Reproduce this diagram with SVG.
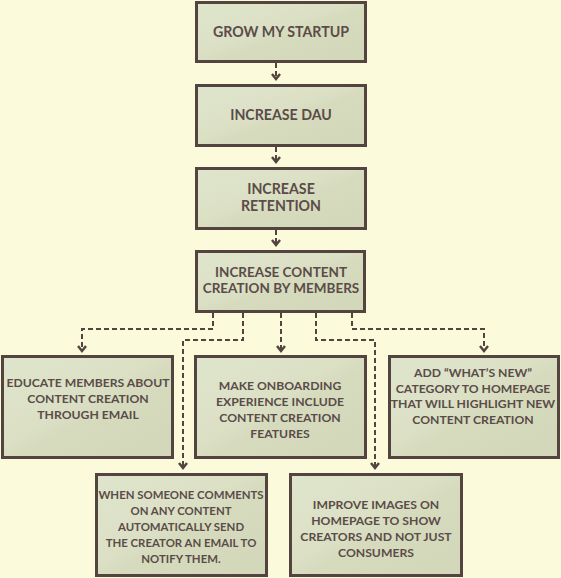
<svg xmlns="http://www.w3.org/2000/svg" width="561" height="578" viewBox="0 0 561 578">
<style>
.box{fill:url(#g);stroke:#54443f;stroke-width:3}
.t{font-family:Lato,"Open Sans",sans-serif;font-weight:bold;font-size:12.2px;fill:#5a4c48;text-anchor:middle}
.big{font-size:14.2px}
.mid{font-size:13.5px}
.sm{font-size:11.4px}
.c{fill:none;stroke:#54443f;stroke-width:2;stroke-dasharray:5 3}
.ah{fill:none;stroke:#54443f;stroke-width:2.5;stroke-linejoin:miter}
</style>
<defs>
<linearGradient id="g" x1="0" y1="0" x2="1" y2="1">
<stop offset="0" stop-color="#dfe5cc"/>
<stop offset="0.45" stop-color="#dbe0c5"/>
<stop offset="0.55" stop-color="#d6dbbe"/>
<stop offset="1" stop-color="#d3d7ba"/>
</linearGradient>
</defs>
<rect width="561" height="578" fill="#fbfbdc"/>
<g id="connectors">
<path class="c" d="M276,63 V77"/>
<path class="c" d="M276,147 V160"/>
<path class="c" d="M276,230 V243"/>
<path class="c" d="M213,313 V329 H82 V349"/>
<path class="c" d="M243,313 V340 H183 V466"/>
<path class="c" d="M281,313 V349"/>
<path class="c" d="M316,313 V340 H375 V466"/>
<path class="c" d="M352,313 V329 H484 V349"/>
<path class="ah" d="M272,74 L276,79 L280,74"/>
<path class="ah" d="M272,157 L276,162 L280,157"/>
<path class="ah" d="M272,240 L276,245 L280,240"/>
<path class="ah" d="M78,346 L82,351 L86,346"/>
<path class="ah" d="M277,346 L281,351 L285,346"/>
<path class="ah" d="M480,346 L484,351 L488,346"/>
<path class="ah" d="M179,463 L183,468 L187,463"/>
<path class="ah" d="M371,463 L375,468 L379,463"/>
</g>
<g id="n1"><rect class="box" x="196.5" y="2.5" width="169" height="59"/>
<text class="t big" x="281" y="37">GROW MY STARTUP</text></g>
<g id="n2"><rect class="box" x="196.5" y="85.5" width="169" height="60"/>
<text class="t big" x="281" y="120">INCREASE DAU</text></g>
<g id="n3"><rect class="box" x="196.5" y="168.5" width="169" height="60"/>
<text class="t big" x="281" y="194">INCREASE</text>
<text class="t big" x="281" y="211">RETENTION</text></g>
<g id="n4"><rect class="box" x="196.5" y="251.5" width="168" height="60"/>
<text class="t mid" x="281" y="277">INCREASE CONTENT</text>
<text class="t mid" x="281" y="293">CREATION BY MEMBERS</text></g>
<g id="n5"><rect class="box" x="2.5" y="356.5" width="170" height="101"/>
<text class="t" x="88" y="387">EDUCATE MEMBERS ABOUT</text>
<text class="t" x="88" y="403">CONTENT CREATION</text>
<text class="t" x="88" y="419">THROUGH EMAIL</text></g>
<g id="n6"><rect class="box" x="195.5" y="356.5" width="170" height="101"/>
<text class="t" x="280" y="390">MAKE ONBOARDING</text>
<text class="t" x="280" y="406">EXPERIENCE INCLUDE</text>
<text class="t" x="280" y="422">CONTENT CREATION</text>
<text class="t" x="280" y="438">FEATURES</text></g>
<g id="n7"><rect class="box" x="389.5" y="356.5" width="169" height="101"/>
<text class="t" x="473" y="377">ADD “WHAT’S NEW”</text>
<text class="t" x="473" y="393">CATEGORY TO HOMEPAGE</text>
<text class="t" x="473" y="408">THAT WILL HIGHLIGHT NEW</text>
<text class="t" x="473" y="424">CONTENT CREATION</text></g>
<g id="n8"><rect class="box" x="96.5" y="474.5" width="170" height="101"/>
<text class="t sm" x="181" y="499">WHEN SOMEONE COMMENTS</text>
<text class="t sm" x="181" y="515">ON ANY CONTENT</text>
<text class="t sm" x="181" y="531">AUTOMATICALLY SEND</text>
<text class="t sm" x="181" y="547">THE CREATOR AN EMAIL TO</text>
<text class="t sm" x="181" y="563">NOTIFY THEM.</text></g>
<g id="n9"><rect class="box" x="290.5" y="474.5" width="171" height="101"/>
<text class="t" x="376" y="509">IMPROVE IMAGES ON</text>
<text class="t" x="376" y="525">HOMEPAGE TO SHOW</text>
<text class="t" x="376" y="541">CREATORS AND NOT JUST</text>
<text class="t" x="376" y="557">CONSUMERS</text></g>
</svg>
